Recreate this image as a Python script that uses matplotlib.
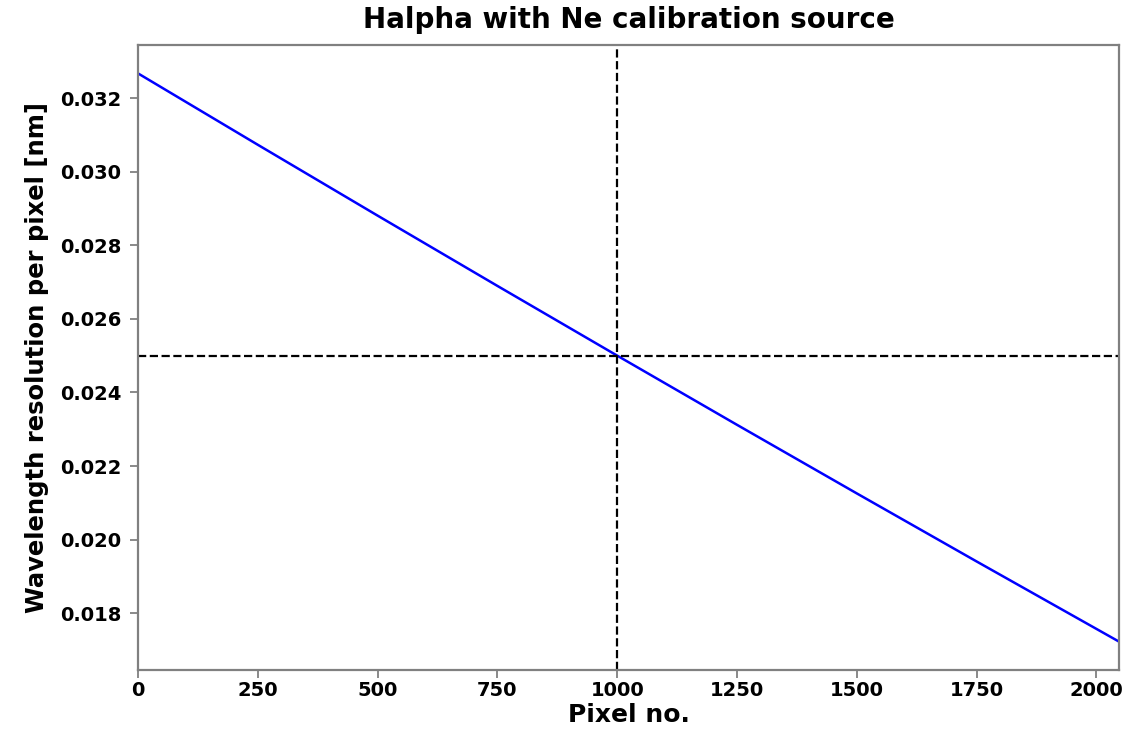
import matplotlib
matplotlib.use("Agg")
import matplotlib.pyplot as plt

# Wavelength dispersion per pixel across the detector
pixel = [0, 250, 500, 750, 1000, 1250, 1500, 1750, 2047]
resolution_nm = [0.03267, 0.03073, 0.028805, 0.026895, 0.02500,
                 0.02312, 0.021256, 0.019407, 0.01723]

ref_pixel = 1000
ref_resolution = 0.025
x_max = 2047
x_ticks = [0, 250, 500, 750, 1000, 1250, 1500, 1750, 2000]

plt.rcParams["font.family"] = ["DejaVu Sans"]
plt.rcParams["font.weight"] = "bold"

fig = plt.figure(figsize=(11.48, 7.30), dpi=100)
ax = fig.add_axes([0.1202, 0.0822, 0.8545, 0.8562])

ax.plot(pixel, resolution_nm, color="blue", lw=1.8)
ax.axvline(ref_pixel, color="black", ls="--", lw=1.6)
ax.axhline(ref_resolution, color="black", ls="--", lw=1.6)

ax.set_xlim(0, x_max)
ax.set_xticks(x_ticks)
ax.set_yticks([0.018, 0.020, 0.022, 0.024, 0.026, 0.028, 0.030, 0.032])
ax.yaxis.set_major_formatter(matplotlib.ticker.FormatStrFormatter("%.3f"))

for s in ax.spines.values():
    s.set_color("#808080")
    s.set_linewidth(1.6)
ax.tick_params(colors="#808080", labelcolor="black", labelsize=14,
               width=1.3, length=6)
ax.tick_params(axis="y", pad=6)
ax.tick_params(axis="x", pad=2)
for lab in ax.get_xticklabels() + ax.get_yticklabels():
    lab.set_fontweight("bold")

ax.set_xlabel("Pixel no.", fontsize=18, fontweight="bold", labelpad=2)
ax.set_ylabel("Wavelength resolution per pixel [nm]", fontsize=17.5,
              fontweight="bold", labelpad=8)
ax.set_title("Halpha with Ne calibration source", fontsize=20,
             fontweight="bold", pad=12)

fig.savefig("out.png", dpi=100)
